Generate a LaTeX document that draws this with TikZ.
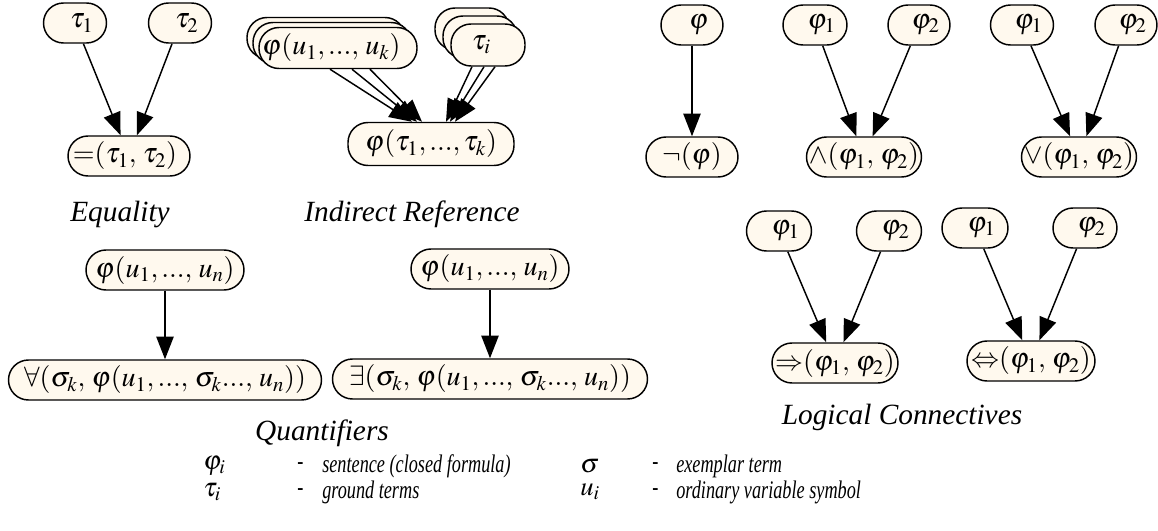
\documentclass[tikz,border=0pt]{standalone}
\usepackage{mathptmx}
\usepackage[no-math]{fontspec}
\setmainfont{Liberation Serif}
\newfontfamily\legfont[FakeStretch=0.72]{Liberation Serif}
\usetikzlibrary{arrows.meta}
\definecolor{cream}{RGB}{255,249,238}
\newcommand\tdots{{.}{.}{.}}
\tikzset{
 nb/.style={draw=black, line width=1.1pt, fill=cream, rounded corners=15pt, minimum height=30pt, inner sep=0pt, font=\fontsize{21}{24}\selectfont},
 bw/.style={minimum width=#1*0.75pt},
 bh/.style={minimum height=#1*0.75pt},
 shr/.style={execute at begin node={\hspace*{10pt}}},
 shl/.style={execute at end node={\hspace*{#1}}},
 arr/.style={line width=1.1pt, -{Triangle[length=17pt,width=13pt]}},
 lab/.style={font=\fontsize{22}{26}\selectfont\itshape},
 leg/.style={font=\fontsize{19}{21}\selectfont\legfont\itshape, anchor=west, inner sep=0pt},
 legs/.style={font=\fontsize{20}{22}\selectfont, anchor=west, inner sep=0pt},
}
\begin{document}
\begin{tikzpicture}[x=0.75pt,y=-0.75pt]
\fill[white] (0,0) rectangle (1158,531);
\useasboundingbox (0,0) rectangle (1158,531);

% Equality
\node[nb,bw=63,shr] (t1) at (75,23) {$\tau_1$};
\node[nb,bw=63,shr] (t2) at (180,23) {$\tau_2$};
\node[nb,bw=122,shl=6pt] (eq) at (129,156) {${=}(\tau_1,\,\tau_2)$};
\node[lab] (leq) at (120,214) {Equality};
\draw[arr] (t1) -- (eq);
\draw[arr] (t2) -- (eq);

% Indirect reference
\node[nb,bw=158,bh=41] (pu3) at (326,38) {};
\node[nb,bw=158,bh=41] (pu2) at (332,43) {};
\node[nb,bw=158,bh=41,shl=10pt] (pu1) at (338,48) {$\varphi(u_1,\tdots,\,u_k)$};
\node[nb,bw=74,bh=42] (ti3) at (472,29) {};
\node[nb,bw=74,bh=42] (ti2) at (480,37) {};
\node[nb,bw=74,bh=42,shl=10pt] (ti1) at (488,45) {$\tau_i$};
\node[nb,bw=166,bh=43] (pt) at (431,144) {$\varphi(\tau_1,\tdots,\tau_k)$};
\node[lab] (lind) at (412,214) {Indirect Reference};
\draw[arr] ([xshift=-6pt]pu1.south) -- ([xshift=-14.25pt]pt.north);
\draw[arr] ([xshift=10.5pt]pu1.south) -- ([xshift=-10.5pt]pt.north);
\draw[arr] ([xshift=24pt]pu1.south) -- ([xshift=-6.75pt]pt.north);
\draw[arr] ([xshift=-12pt]ti1.south) -- ([xshift=11.25pt]pt.north);
\draw[arr] ([xshift=-3pt]ti1.south) -- ([xshift=14.25pt]pt.north);
\draw[arr] ([xshift=5.25pt]ti1.south) -- ([xshift=18pt]pt.north);

% Negation
\node[nb,bw=62,shr] (f) at (692,25) {$\varphi$};
\node[nb,bw=92] (nf) at (692,157) {${\neg}(\varphi)$};
\draw[arr] (f) -- (nf);

% Conjunction
\node[nb,bw=64,shr] (a1) at (815,25) {$\varphi_1$};
\node[nb,bw=62,shr] (a2) at (919,25) {$\varphi_2$};
\node[nb,bw=115] (ac) at (864,157) {${\wedge}(\varphi_1,\,\varphi_2)$};
\draw[arr] (a1) -- (ac);
\draw[arr] (a2) -- (ac);

% Disjunction
\node[nb,bw=63,shr] (o1) at (1022,25) {$\varphi_1$};
\node[nb,bw=62,shr] (o2) at (1126,25) {$\varphi_2$};
\node[nb,bw=115] (oc) at (1079,157) {${\vee}(\varphi_1,\,\varphi_2)$};
\draw[arr] (o1) -- (oc);
\draw[arr] (o2) -- (oc);

% Implication
\node[nb,bw=65,shr] (i1) at (779,231) {$\varphi_1$};
\node[nb,bw=65,shr] (i2) at (889,231) {$\varphi_2$};
\node[nb,bw=126] (ic) at (835,363) {${\Rightarrow}(\varphi_1,\,\varphi_2)$};
\draw[arr] (i1) -- (ic);
\draw[arr] (i2) -- (ic);

% Equivalence
\node[nb,bw=66,shr] (e1) at (975,228) {$\varphi_1$};
\node[nb,bw=64,shr] (e2) at (1085,228) {$\varphi_2$};
\node[nb,bw=128] (ec) at (1031,361) {${\Leftrightarrow}(\varphi_1,\,\varphi_2)$};
\draw[arr] (e1) -- (ec);
\draw[arr] (e2) -- (ec);
\node[lab] (llog) at (902,417) {Logical Connectives};

% Quantifiers
\node[nb,bw=158] (q1) at (165,270) {$\varphi(u_1,\tdots,\,u_n)$};
\node[nb,bw=313] (qa) at (165,380) {${\forall}(\sigma_k,\,\varphi(u_1,\tdots,\,\sigma_k\tdots,\,u_n))$};
\node[nb,bw=158] (q2) at (490,269) {$\varphi(u_1,\tdots,\,u_n)$};
\node[nb,bw=315] (qe) at (490,379) {${\exists}(\sigma_k,\,\varphi(u_1,\tdots,\,\sigma_k\tdots,\,u_n))$};
\draw[arr] (q1) -- (qa);
\draw[arr] (q2) -- (qe);
\node[lab] (lq) at (322,433) {Quantifiers};

% Legend
\node[legs] (s1) at (203,466) {$\varphi_i$};
\node[leg] (d1) at (297,466) {\upshape -};
\node[leg] (x1) at (322,466) {sentence (closed formula)};
\node[legs] (s2) at (580,466) {$\sigma$};
\node[leg] (d2) at (652,466) {\upshape -};
\node[leg] (x2) at (676,466) {exemplar term};
\node[legs] (s3) at (203,492) {$\tau_i$};
\node[leg] (d3) at (297,492) {\upshape -};
\node[leg] (x3) at (322,492) {ground terms};
\node[legs] (s4) at (580,492) {$u_i$};
\node[leg] (d4) at (652,492) {\upshape -};
\node[leg] (x4) at (676,492) {ordinary variable symbol};
\end{tikzpicture}
\end{document}
